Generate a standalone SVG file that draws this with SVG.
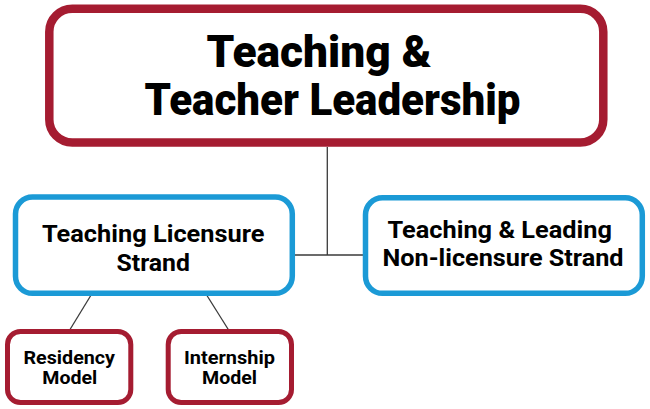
<svg xmlns="http://www.w3.org/2000/svg" width="650" height="409" viewBox="0 0 650 409">
  <style>
    .red { fill: #ffffff; stroke: #A51C31; }
    .blue { fill: #ffffff; stroke: #1B9AD6; }
    .lbl { font-family: Roboto, "Liberation Sans", sans-serif; font-weight: 700; fill: #000000; }
    .title { font-weight: 900; }
    .conn { stroke: #3a3a3a; stroke-width: 1.3; fill: none; }
  </style>
  <rect width="650" height="409" fill="#ffffff"/>
  <g id="connectors">
    <line class="conn" x1="327.3" y1="147" x2="327.3" y2="255"/>
    <line class="conn" x1="294" y1="255" x2="363" y2="255"/>
    <line class="conn" x1="91.7" y1="294" x2="70" y2="329.5"/>
    <line class="conn" x1="206" y1="294" x2="228.3" y2="329.5"/>
  </g>
  <g id="node-root">
    <rect class="red" x="49.3" y="8.7" width="554" height="133.7" rx="23" stroke-width="8.5"/>
    <text class="lbl title" font-size="44.5" x="206.5" y="66.7" textLength="225" lengthAdjust="spacingAndGlyphs">Teaching &amp;</text>
    <text class="lbl title" font-size="44.5" x="144.5" y="115" textLength="376" lengthAdjust="spacingAndGlyphs">Teacher Leadership</text>
  </g>
  <g id="node-licensure">
    <rect class="blue" x="15.5" y="197" width="276.8" height="96.3" rx="17" stroke-width="5.5"/>
    <text class="lbl" font-size="23.5" x="42" y="242.3" textLength="222.5" lengthAdjust="spacingAndGlyphs">Teaching Licensure</text>
    <text class="lbl" font-size="23.5" x="116.5" y="271" textLength="73.5" lengthAdjust="spacingAndGlyphs">Strand</text>
  </g>
  <g id="node-nonlicensure">
    <rect class="blue" x="365.5" y="197.8" width="276.8" height="95.5" rx="17" stroke-width="5.5"/>
    <text class="lbl" font-size="23.5" x="387.5" y="238.3" textLength="224.5" lengthAdjust="spacingAndGlyphs">Teaching &amp; Leading</text>
    <text class="lbl" font-size="23.5" x="382.5" y="266" textLength="241" lengthAdjust="spacingAndGlyphs">Non-licensure Strand</text>
  </g>
  <g id="node-residency">
    <rect class="red" x="7.5" y="331.5" width="123.3" height="71" rx="13" stroke-width="5"/>
    <text class="lbl" font-size="17.7" x="23.5" y="364.3" textLength="91.5" lengthAdjust="spacingAndGlyphs">Residency</text>
    <text class="lbl" font-size="17.7" x="42.3" y="384.3" textLength="55" lengthAdjust="spacingAndGlyphs">Model</text>
  </g>
  <g id="node-internship">
    <rect class="red" x="168.2" y="331.5" width="123.3" height="71" rx="13" stroke-width="5"/>
    <text class="lbl" font-size="17.7" x="184" y="364.3" textLength="91" lengthAdjust="spacingAndGlyphs">Internship</text>
    <text class="lbl" font-size="17.7" x="202" y="384.3" textLength="55" lengthAdjust="spacingAndGlyphs">Model</text>
  </g>
</svg>
